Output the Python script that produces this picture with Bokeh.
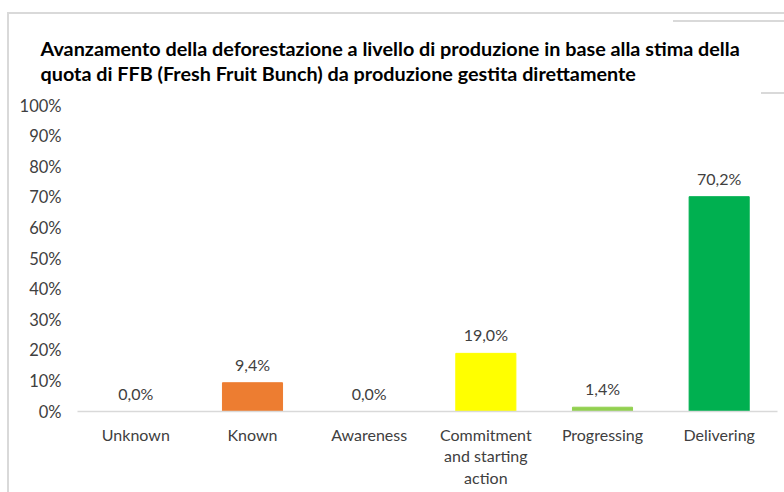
from bokeh.plotting import figure
from bokeh.models import (ColumnDataSource, LabelSet, FixedTicker, NumeralTickFormatter)
from bokeh.core.properties import value
from bokeh.embed import file_html
from bokeh.resources import INLINE

categories = ["Unknown", "Known", "Awareness", "Commitment\nand starting\naction",
              "Progressing", "Delivering"]
values = [0.0, 0.094, 0.0, 0.190, 0.014, 0.702]
value_labels = ["0,0%", "9,4%", "0,0%", "19,0%", "1,4%", "70,2%"]
colors = ["#7F7F7F", "#ED7D31", "#A5A5A5", "#FFFF00", "#92D050", "#00B050"]
title_text = ("Avanzamento della deforestazione a livello di produzione in base alla stima della\n"
              "quota di FFB (Fresh Fruit Bunch) da produzione gestita direttamente")

FONT = "Lato"
GRAY = "#404040"

src = ColumnDataSource(dict(cat=categories, val=values, lab=value_labels, col=colors))

p = figure(width=784, height=492, x_range=categories, y_range=(0, 1.0),
           output_backend="svg", toolbar_location=None,
           min_border_left=77, min_border_right=7, min_border_top=105, min_border_bottom=81)
p.outline_line_color = None
p.background_fill_color = "white"
p.border_fill_color = None

# light frame lines of the original screenshot, drawn as page background
g = "linear-gradient(#D9D9D9,#D9D9D9)"
p.styles = {
    "background": (f"{g} 7px 12px / 777px 2px no-repeat, "
                   f"{g} 7px 12px / 2px 480px no-repeat, "
                   f"{g} 673px 20px / 111px 2px no-repeat, "
                   f"{g} 761px 92px / 23px 2px no-repeat, white")
}

p.title.text = title_text
p.title.align = "left"
p.title.offset = -37
p.title.standoff = 41
p.title.text_font = FONT
p.title.text_font_size = "19.8px"
p.title.text_font_style = "bold"
p.title.text_color = "#000000"
p.title.text_line_height = 1.04

p.vbar(x="cat", top="val", width=0.515, color="col", source=src)

p.xgrid.grid_line_color = None
p.ygrid.grid_line_color = None

p.yaxis.ticker = FixedTicker(ticks=[i / 10 for i in range(11)])
p.yaxis.formatter = NumeralTickFormatter(format="0%")
p.yaxis.axis_line_color = None
p.yaxis.major_tick_line_color = None
p.yaxis.minor_tick_line_color = None
p.yaxis.major_label_standoff = 10
p.yaxis.major_label_text_font = FONT
p.yaxis.major_label_text_font_size = "16.5px"
p.yaxis.major_label_text_color = GRAY

p.xaxis.axis_line_color = "#D9D9D9"
p.xaxis.axis_line_width = 1.5
p.xaxis.major_tick_line_color = None
p.xaxis.minor_tick_line_color = None
p.xaxis.major_label_standoff = 7
p.xaxis.major_label_text_font = FONT
p.xaxis.major_label_text_font_size = "16px"
p.xaxis.major_label_text_color = GRAY
p.xaxis.major_label_text_line_height = 1.15

labels = LabelSet(x="cat", y="val", text="lab", source=src, y_offset=9,
                  text_align="center", text_baseline="bottom",
                  text_font=value(FONT), text_font_size=value("16px"), text_color=GRAY)
p.add_layout(labels)

open("out.html", "w").write(file_html(p, INLINE))
